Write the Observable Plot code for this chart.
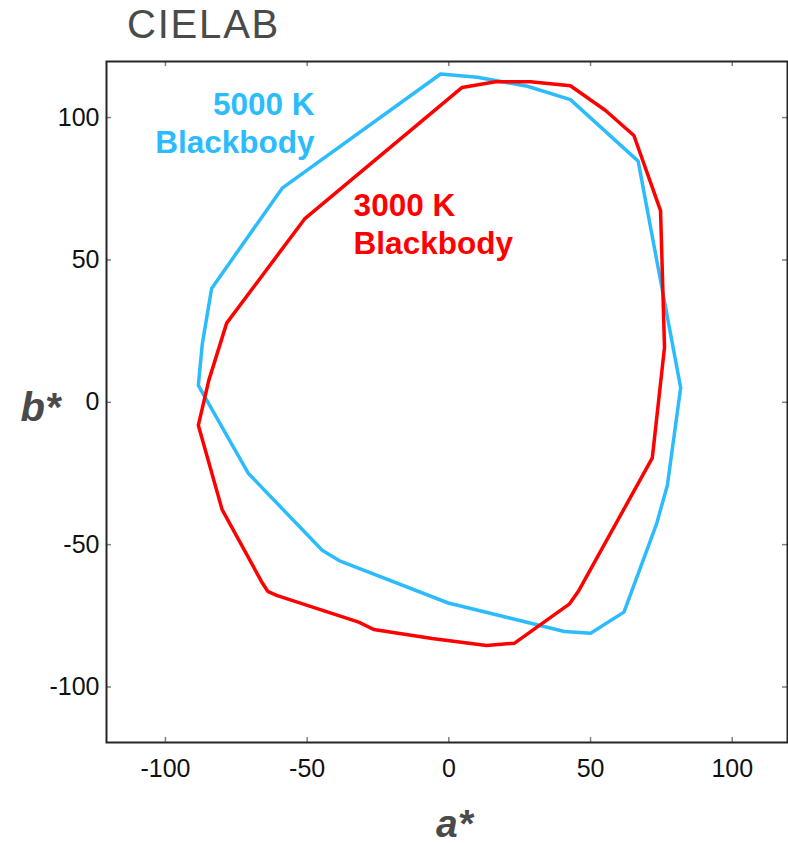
<!DOCTYPE html>
<html>
<head>
<meta charset="utf-8">
<script src="https://cdn.jsdelivr.net/npm/d3@7"></script>
<script src="https://cdn.jsdelivr.net/npm/@observablehq/plot@0.6"></script>
<style>
  html, body { margin: 0; padding: 0; background: #fff; }
  #wrap { position: relative; width: 788px; height: 843px; }
  #title { position: absolute; left: 127px; top: 4px; font: 40px "Liberation Sans", Arial, sans-serif; line-height: 1; color: #4a4a4a; letter-spacing: 1.8px; }
</style>
</head>
<body>
<div id="wrap"><div id="title">CIELAB</div></div>
<script>
// 5000 K blackbody gamut boundary (a*, b*)
const blueA = [-2.9, 10.0, 27.7, 42.9, 66.8, 81.8, 77.1, 73.3, 61.8, 50.0, 40.8, -0.2, -38.3, -44.7, -70.8, -88.4, -87.0, -83.7, -58.8];
const blueB = [115.3, 114.2, 111.0, 106.3, 84.7, 5.1, -29.2, -42.7, -73.7, -81.1, -80.5, -70.5, -55.8, -52.0, -24.9, 5.9, 20.5, 40.0, 75.2];
// 3000 K blackbody gamut boundary (a*, b*)
const redA = [4.7, 16.5, 28.8, 42.9, 55.3, 65.3, 74.7, 76.1, 71.8, 45.9, 42.6, 23.2, 13.3, -5.9, -26.5, -31.8, -60.8, -63.9, -65.8, -80.0, -88.4, -84.7, -78.4, -50.9];
const redB = [110.6, 112.6, 112.6, 111.2, 102.5, 93.7, 67.3, 19.3, -19.5, -66.1, -70.8, -84.6, -85.4, -83.0, -79.8, -77.2, -67.8, -66.4, -63.5, -37.7, -8.1, 7.7, 27.8, 64.4];

const seriesNames = ["5000 K\nBlackbody", "3000 K\nBlackbody"];
const xTicks = [-100, -50, 0, 50, 100];
const yTicks = [-100, -50, 0, 50, 100];
const xLabel = "a*";
const yLabel = "b*";

const BLUE = "#2cbcfd";
const RED = "#ff0000";

const blue = blueA.map((a, i) => ({a, b: blueB[i]}));
const red = redA.map((a, i) => ({a, b: redB[i]}));

const W = 788, H = 843;
const mL = 106, mR = 1, mT = 61, mB = 101;
const fw = W - mL - mR, fh = H - mT - mB;
const font = '"Liberation Sans", Arial, sans-serif';
const fmt = d => String(d);

const chart = Plot.plot({
  width: W, height: H,
  marginLeft: mL, marginRight: mR, marginTop: mT, marginBottom: mB,
  style: {fontFamily: font, background: "white", overflow: "visible"},
  x: {domain: [-120.8, 119.5]},
  y: {domain: [-119.5, 119.7]},
  marks: [
    Plot.axisX(xTicks, {anchor: "bottom", tickSize: 0, tickPadding: 17, fontSize: 25, fill: "#111", label: null, tickFormat: fmt}),
    Plot.axisY(yTicks, {anchor: "left", tickSize: 0, tickPadding: 7, fontSize: 25, fill: "#111", label: null, tickFormat: fmt}),
    Plot.tickX(xTicks, {x: d => d, insetTop: fh - 5, stroke: "#808080", strokeWidth: 1.5}),
    Plot.tickX(xTicks, {x: d => d, insetBottom: fh - 5, stroke: "#808080", strokeWidth: 1.5}),
    Plot.tickY(yTicks, {y: d => d, insetRight: fw - 5, stroke: "#808080", strokeWidth: 1.5}),
    Plot.tickY(yTicks, {y: d => d, insetLeft: fw - 5, stroke: "#808080", strokeWidth: 1.5}),
    Plot.line(blue, {x: "a", y: "b", curve: "linear-closed", stroke: BLUE, strokeWidth: 3.5, strokeLinejoin: "miter"}),
    Plot.line(red, {x: "a", y: "b", curve: "linear-closed", stroke: RED, strokeWidth: 3.5, strokeLinejoin: "miter"}),
    Plot.frame({stroke: "#262626", strokeWidth: 2}),
    Plot.text([seriesNames[0]], {x: -47.4, y: 87.4, text: d => d, textAnchor: "end", lineAnchor: "bottom", lineHeight: 1.21, fontSize: 31.5, fontWeight: "bold", fill: BLUE}),
    Plot.text([seriesNames[1]], {x: -33.6, y: 52.2, text: d => d, textAnchor: "start", lineAnchor: "bottom", lineHeight: 1.21, fontSize: 31.5, fontWeight: "bold", fill: RED}),
    Plot.text([xLabel], {frameAnchor: "bottom", text: d => d, dx: 7.5, dy: 94, lineAnchor: "bottom", fontSize: 39, fontWeight: "bold", fontStyle: "italic", fill: "#4a4a4a"}),
    Plot.text([yLabel], {frameAnchor: "left", text: d => d, dx: -66, dy: 18.5, textAnchor: "middle", lineAnchor: "bottom", fontSize: 40, fontWeight: "bold", fontStyle: "italic", fill: "#4a4a4a"})
  ]
});
document.getElementById("wrap").prepend(chart);
chart.style.position = "absolute";
chart.style.left = "0";
chart.style.top = "0";
</script>
</body>
</html>
